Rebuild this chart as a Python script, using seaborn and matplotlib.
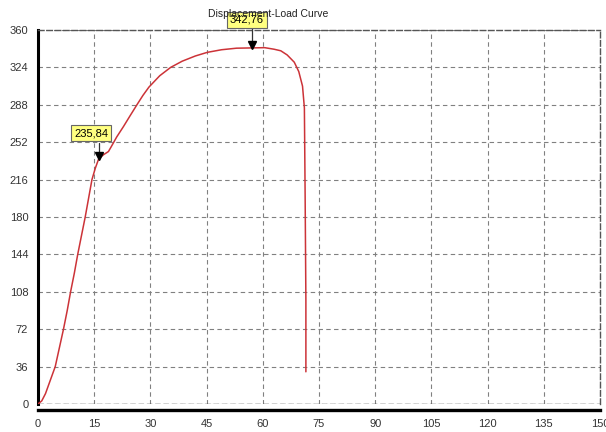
import matplotlib
matplotlib.use("Agg")
import matplotlib.pyplot as plt
import seaborn as sns
import pandas as pd
import numpy as np

# Data
displacement = [0, 1, 2, 3, 4.6, 5.7, 6.8, 7.8, 8.7, 9.7, 10.6, 11.6, 12.6, 13.5, 14.4,
                15.3, 16.2, 17.5, 18.8, 19.6, 21, 22.8, 24.5, 26.4, 28, 29.6, 32.5, 35.4,
                38.5, 42, 45.2, 49, 53, 57.2, 60.5, 63, 64.8, 66.5, 68.4, 69.6, 70.6,
                71.1, 71.3, 71.5, 71.5]
load = [0, 3, 10, 20, 36, 54, 72, 90, 108, 126, 144, 162, 180, 198, 216,
        227, 236, 240, 243, 248, 257, 267, 277, 288, 297, 305, 316, 324,
        330, 335, 338.5, 341, 342.5, 342.76, 343, 341.5, 340, 336, 329, 320, 306,
        285, 200, 100, 31]
x_ticks = [0, 15, 30, 45, 60, 75, 90, 105, 120, 135, 150]
y_ticks = [0, 36, 72, 108, 144, 180, 216, 252, 288, 324, 360]
marker_x = [16.2, 57.2]
marker_y = [235.84, 342.76]
marker_labels = ["235,84", "342,76"]
title = "Displacement-Load Curve"

df = pd.DataFrame({"x": displacement, "y": load})

sns.set_style("white")
plt.rcParams['font.family'] = ['Liberation Sans', 'DejaVu Sans']

W, H = 606, 432
L, R, B, T = 38, 600, 404, 30
fig = plt.figure(figsize=(W / 100, H / 100), dpi=100)
ax = fig.add_axes([L / W, 1 - B / H, (R - L) / W, (B - T) / H])

sns.lineplot(data=df, x="x", y="y", ax=ax, color="#cc3338", linewidth=1.1,
             sort=False, estimator=None, zorder=3)

ax.set_xlim(0, 150)
ax.set_ylim(0, 360)
ax.set_xticks(x_ticks)
ax.set_yticks(y_ticks)
ax.set_xticklabels([str(t) for t in x_ticks])
ax.set_yticklabels([str(t) for t in y_ticks])
ax.set_xticks(np.arange(7.5, 150, 15), minor=True)
ax.set_xlabel("")
ax.set_ylabel("")

ax.grid(True, which="major", color="#808080", linestyle=(0, (4, 3)), linewidth=0.8)
ax.set_axisbelow(True)

for side in ["top", "right"]:
    ax.spines[side].set_linestyle((0, (4, 2)))
    ax.spines[side].set_color("#555555")
    ax.spines[side].set_linewidth(1.0)
ax.spines["left"].set_linewidth(2.2)
ax.spines["left"].set_color("black")
ax.spines["bottom"].set_linewidth(2.4)
ax.spines["bottom"].set_color("black")
ax.spines["bottom"].set_position(("outward", 4))
ax.axhline(0, color="#333333", linestyle=(0, (4, 2)), linewidth=1.0, zorder=2)

ax.tick_params(axis="both", which="major", labelsize=8, labelcolor="#333333",
               length=3, width=0.8, color="#555555", pad=4)
ax.tick_params(axis="x", which="minor", length=2, width=0.6, color="#555555")

fig.text(268 / W, 1 - 14 / H, title, ha="center", va="center", fontsize=7.5,
         color="#222222", zorder=1)

def px_to_data_y(py):
    return (B - py) / (B - T) * 360

box_centers_px = [(91, 133), (247, 20)]
box_bottom_px = [143, 28]
for mx, my, lab, (bx, by), bb in zip(marker_x, marker_y, marker_labels,
                                     box_centers_px, box_bottom_px):
    ax.plot([mx, mx], [my, px_to_data_y(bb)], color="#333333", lw=0.9,
            zorder=5, clip_on=False)
    ax.plot([mx], [my + 3], marker="v", color="black", markersize=5.5, zorder=6,
            clip_on=False)
    fx = (bx - L) / (R - L)
    fy = (B - by) / (B - T)
    ax.text(fx, fy, lab, transform=ax.transAxes, ha="center", va="center",
            fontsize=8, color="black", zorder=7, clip_on=False,
            bbox=dict(boxstyle="square,pad=0.25", fc="#ffff80", ec="#666666", lw=0.8))

fig.savefig("out.png", dpi=100)
